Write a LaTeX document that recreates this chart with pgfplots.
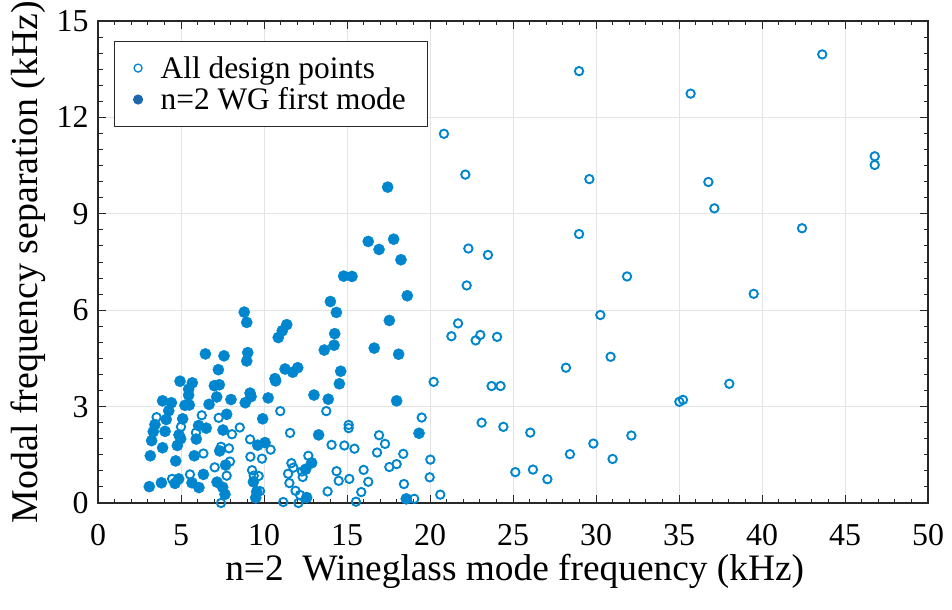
\documentclass[border=0pt]{standalone}
\usepackage{fontspec}
\setmainfont{Liberation Serif}
\usepackage{pgfplots}
\usepackage{pgfplotstable}
\pgfplotsset{compat=1.18}
\definecolor{ptblue}{RGB}{0,134,206}
\definecolor{legdark}{RGB}{28,104,170}
\definecolor{gridgray}{RGB}{228,228,228}
\definecolor{axgray}{RGB}{40,40,40}

\pgfplotstableread{
x y
8.81 5.94
8.96 5.62
6.47 4.64
7.59 4.58
9.02 4.68
8.96 4.42
7.25 4.15
4.94 3.79
5.68 3.74
5.46 3.54
5.46 3.36
7.01 3.65
7.31 3.68
7.15 3.30
3.89 3.18
4.42 3.12
4.26 2.87
5.24 3.04
5.50 3.05
6.69 3.07
8.01 3.22
8.87 3.12
9.22 3.31
9.16 3.42
10.25 3.27
7.75 2.76
4.11 2.60
5.10 2.62
3.43 2.44
3.33 2.22
4.04 2.23
6.06 2.41
6.52 2.33
4.88 2.12
4.98 2.00
5.92 1.99
7.53 2.27
9.92 2.62
3.23 1.94
3.89 1.72
4.78 1.79
7.33 1.62
9.62 1.80
10.06 1.88
3.15 1.47
5.80 1.47
4.68 1.31
7.69 1.18
6.35 0.89
4.86 0.75
4.64 0.61
5.66 0.63
3.82 0.63
3.09 0.51
6.08 0.48
7.17 0.65
7.51 0.49
7.65 0.27
9.50 0.16
9.56 0.35
9.36 0.66
14.00 6.27
14.36 5.93
11.37 5.55
11.10 5.36
10.86 5.15
17.55 5.68
14.26 5.27
14.22 4.91
13.63 4.76
16.64 4.82
18.11 4.63
11.27 4.17
11.73 4.07
12.03 4.21
14.62 4.10
10.66 3.87
10.70 3.80
14.54 3.71
13.01 3.36
13.87 3.23
17.99 3.18
13.29 2.12
19.34 2.17
12.87 1.25
12.51 1.05
12.57 0.17
18.57 0.13
17.45 9.83
16.28 8.14
17.81 8.21
16.93 7.89
18.25 7.57
14.80 7.06
15.30 7.05
18.63 6.45
}\filledpts

\pgfplotstableread{
x y
3.53 2.67
5.00 2.37
6.25 2.73
7.27 2.65
5.90 2.19
8.54 2.35
8.07 2.14
9.16 1.98
7.41 1.75
7.89 1.70
6.35 1.54
7.95 1.29
9.18 1.44
9.88 1.38
7.03 1.11
7.75 0.85
9.28 1.02
9.38 0.85
9.68 0.84
5.54 0.89
4.46 0.75
9.76 0.37
7.41 0.00
10.40 1.66
10.98 2.86
13.75 2.86
20.22 3.77
19.50 2.66
15.10 2.43
15.10 2.33
11.57 2.18
16.93 2.11
17.29 1.84
14.07 1.81
14.84 1.79
15.45 1.69
12.67 1.47
11.65 1.24
11.77 1.10
16.81 1.57
18.39 1.53
20.02 1.35
17.55 1.12
17.99 1.21
11.45 0.91
11.53 0.62
12.29 0.98
12.33 0.81
14.37 0.99
16.00 1.03
15.14 0.75
14.50 0.69
16.28 0.66
19.98 0.80
18.43 0.59
11.90 0.38
12.17 0.25
13.83 0.36
15.86 0.34
11.16 0.03
12.07 0.00
15.54 0.04
19.05 0.13
20.62 0.26
28.98 13.44
35.70 12.74
43.63 13.96
20.84 11.49
22.13 10.22
29.60 10.08
36.77 9.99
37.13 9.17
46.79 10.79
46.79 10.52
28.98 8.37
22.31 7.92
23.49 7.72
42.41 8.55
22.21 6.77
31.87 7.05
39.50 6.51
30.26 5.85
21.69 5.59
21.29 5.19
22.75 5.06
23.03 5.23
24.04 5.17
30.88 4.55
28.19 4.21
23.71 3.64
24.25 3.64
38.03 3.71
35.02 3.15
35.24 3.21
23.11 2.50
24.42 2.37
26.04 2.19
32.13 2.10
29.84 1.85
28.43 1.52
31.00 1.37
25.14 0.96
26.20 1.04
27.07 0.74
}\openpts

\begin{document}
\begin{tikzpicture}
\begin{axis}[
  scale only axis, width=830bp, height=482bp,
  xmin=0, xmax=50, ymin=0, ymax=15,
  xtick={0,5,...,50}, ytick={0,3,...,15},
  minor x tick num=4, minor y tick num=5,
  tick align=inside,
  major tick length=8bp, minor tick length=4.5bp,
  grid=major, major grid style={gridgray, line width=0.9bp},
  axis line style={axgray, line width=1.3bp},
  every tick/.style={axgray, line width=1bp},
  /pgf/number format/assume math mode=true,
  xticklabel={\rmfamily\pgfmathprintnumber[assume math mode=true]{\tick}},
  yticklabel={\rmfamily\pgfmathprintnumber[assume math mode=true]{\tick}},
  ticklabel style={font=\fontsize{32}{38}\selectfont, text=black},
  xticklabel style={yshift=-18bp},
  yticklabel style={xshift=-6bp},
  xlabel={n=2\ \ Wineglass mode frequency (kHz)},
  ylabel={Modal frequency separation (kHz)},
  xlabel style={font=\fontsize{37.5}{44}\selectfont, at={(axis description cs:0.502,-0.16)}, anchor=base},
  ylabel style={font=\fontsize{38}{45}\selectfont, at={(axis description cs:-0.0723,0.5)}, anchor=base},
  clip=false,
  legend cell align=left,
  legend style={at={(axis description cs:0.0193,0.9585)}, anchor=north west,
    draw=axgray, line width=0.9bp, fill=white,
    font=\fontsize{31.5}{37}\selectfont,
    inner xsep=19bp, inner ysep=12bp, row sep=2bp, column sep=15bp,
    nodes={inner sep=3bp}},
]
\addlegendimage{only marks, mark=o, mark size=4bp, color=ptblue, mark options={line width=1.3bp}}
\addlegendentry{All design points}
\addlegendimage{only marks, mark=*, mark size=4.6bp, color=legdark}
\addlegendentry{n=2 WG first mode}

\addplot[forget plot, only marks, mark=*, mark size=5.6bp, color=ptblue] table[x=x, y=y] {\filledpts};
\addplot[forget plot, only marks, mark=o, mark size=4.2bp, color=ptblue, mark options={line width=1.9bp}] table[x=x, y=y] {\openpts};
\end{axis}
\pgfresetboundingbox
\path ([shift={(-98bp,-106bp)}]current axis.south west) rectangle ([shift={(24bp,21bp)}]current axis.north east);
\end{tikzpicture}
\end{document}
